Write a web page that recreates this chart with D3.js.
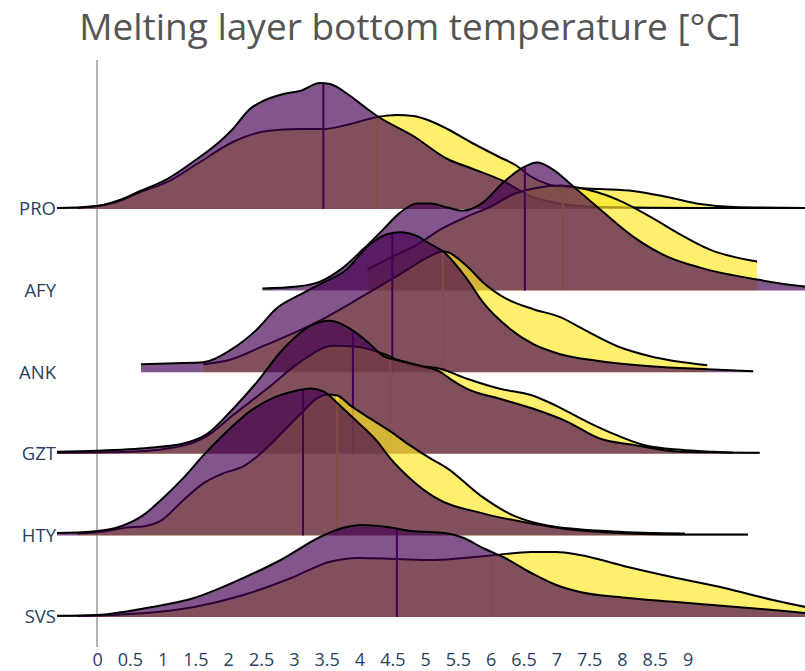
<!DOCTYPE html>
<html>
<head>
<meta charset="utf-8">
<script src="https://cdn.jsdelivr.net/npm/d3@7"></script>
<style>
    body { margin: 0; background: #fff; }
    text { font-family: "Open Sans", sans-serif; }
</style>
</head>
<body>
<div id="chart-area"></div>
<script>
// categories, top row first
const categories = ["PRO", "AFY", "ANK", "GZT", "HTY", "SVS"];
const xTicks = [0, 0.5, 1, 1.5, 2, 2.5, 3, 3.5, 4, 4.5, 5, 5.5, 6, 6.5, 7, 7.5, 8, 8.5, 9];

// density curves, [temperature, density]
const purpleDensity = [
    [[-0.8,0.01],[-0.59,0.01],[0,0.03],[0.3,0.08],[0.66,0.18],[1.07,0.30],[1.46,0.47],[1.88,0.68],[2.07,0.80],[2.33,1.00],[2.53,1.08],[2.84,1.15],[3.09,1.18],[3.4,1.26],[3.55,1.25],[3.86,1.13],[4.12,1.00],[4.27,0.93],[4.82,0.73],[5.34,0.50],[5.73,0.40],[6.19,0.28],[6.6,0.13],[7.1,0.05],[7.67,0.02],[9.2,0.01],[11,0.01]],
    [[2.52,0.02],[3.05,0.04],[3.4,0.09],[3.75,0.23],[4.05,0.41],[4.36,0.61],[4.62,0.78],[4.88,0.87],[5.08,0.87],[5.34,0.83],[5.58,0.80],[5.88,0.88],[6.19,1.08],[6.49,1.23],[6.71,1.28],[6.95,1.21],[7.26,1.04],[7.67,0.81],[8.17,0.54],[8.69,0.34],[9.19,0.23],[10.06,0.11],[10.8,0.04],[11.2,0.02]],
    [[0.67,0.08],[1.2,0.09],[1.62,0.10],[2.03,0.22],[2.44,0.43],[2.74,0.64],[3.05,0.76],[3.4,0.88],[3.81,1.03],[4.16,1.28],[4.42,1.38],[4.62,1.40],[4.88,1.36],[5.08,1.28],[5.27,1.21],[5.64,0.93],[5.88,0.70],[6.3,0.43],[6.65,0.28],[7.06,0.18],[7.67,0.11],[8.43,0.06],[9.3,0.03],[10.0,0.01]],
    [[-0.8,0.02],[0,0.03],[0.8,0.06],[1.3,0.10],[1.68,0.20],[2.03,0.42],[2.44,0.72],[2.84,1.05],[3.25,1.28],[3.55,1.33],[3.86,1.25],[4.12,1.12],[4.36,0.98],[4.62,0.93],[4.92,0.88],[5.23,0.82],[5.38,0.75],[5.64,0.65],[6.14,0.55],[6.65,0.45],[7.17,0.32],[7.67,0.15],[8.17,0.09],[8.9,0.02],[10.1,0.01]],
    [[-0.8,0.02],[-0.06,0.04],[0.4,0.10],[0.7,0.20],[1.0,0.37],[1.31,0.57],[1.62,0.80],[1.98,1.04],[2.33,1.24],[2.74,1.39],[3.05,1.45],[3.25,1.47],[3.45,1.44],[3.7,1.30],[3.96,1.14],[4.27,0.94],[4.47,0.77],[4.77,0.57],[5.15,0.38],[5.88,0.22],[6.62,0.12],[7.36,0.05],[8.83,0.01],[9.92,0.01]],
    [[-0.8,0.01],[0,0.02],[0.75,0.09],[1.48,0.19],[2.23,0.39],[2.8,0.57],[3.4,0.80],[3.69,0.88],[4.05,0.92],[4.42,0.90],[4.79,0.86],[5.3,0.84],[5.59,0.79],[5.88,0.69],[6.19,0.60],[6.62,0.44],[7.0,0.32],[7.36,0.25],[8.09,0.19],[8.83,0.15],[9.56,0.11],[10.3,0.07],[10.8,0.04],[11.2,0.02]]
];

const yellowDensity = [
    [[-0.3,0.01],[0,0.03],[0.3,0.07],[0.66,0.17],[1.07,0.27],[1.57,0.47],[2.07,0.67],[2.59,0.78],[3.09,0.80],[3.45,0.80],[3.86,0.85],[4.27,0.92],[4.57,0.94],[4.82,0.93],[5.08,0.88],[5.34,0.80],[5.69,0.67],[6.1,0.53],[6.4,0.43],[6.6,0.33],[6.86,0.25],[7.1,0.22],[7.67,0.20],[8.17,0.18],[8.69,0.12],[9.19,0.05],[9.7,0.02],[11,0.01]],
    [[4.12,0.21],[4.47,0.33],[4.88,0.46],[5.23,0.61],[5.64,0.74],[6.0,0.84],[6.3,0.95],[6.65,1.02],[7.06,1.05],[7.32,1.03],[7.93,0.91],[8.43,0.74],[8.84,0.58],[9.34,0.41],[10.06,0.29]],
    [[1.62,0.08],[2.0,0.12],[2.53,0.26],[3.35,0.50],[4.05,0.76],[4.57,0.96],[5.08,1.16],[5.27,1.21],[5.64,1.06],[5.88,0.90],[6.25,0.73],[6.65,0.63],[7.06,0.55],[7.41,0.43],[7.93,0.26],[8.43,0.16],[9.3,0.07]],
    [[-0.8,0.01],[0.5,0.02],[1.3,0.08],[1.68,0.18],[2.06,0.38],[2.59,0.65],[3.1,0.92],[3.6,1.08],[3.96,1.07],[4.36,1.00],[4.62,0.93],[4.92,0.88],[5.23,0.85],[5.64,0.75],[6.14,0.65],[6.6,0.59],[7.0,0.48],[7.47,0.32],[7.8,0.22],[8.38,0.08],[8.9,0.04],[9.4,0.02],[9.7,0.01]],
    [[-0.3,0.02],[0.1,0.04],[0.46,0.08],[0.7,0.09],[0.98,0.15],[1.31,0.35],[1.62,0.52],[1.92,0.62],[2.23,0.69],[2.53,0.84],[2.84,1.04],[3.14,1.24],[3.35,1.37],[3.51,1.41],[3.66,1.40],[3.86,1.30],[4.16,1.17],[4.47,1.04],[4.77,0.90],[5.08,0.77],[5.34,0.67],[5.84,0.40],[6.34,0.20],[6.86,0.10],[7.87,0.04],[8.96,0.02]],
    [[-0.3,0.01],[0.24,0.02],[1.48,0.10],[2.23,0.22],[2.96,0.39],[3.54,0.55],[3.98,0.59],[4.57,0.58],[5.15,0.57],[5.75,0.60],[6.07,0.62],[6.62,0.65],[7.0,0.65],[7.36,0.62],[8.09,0.50],[8.83,0.39],[9.56,0.29],[10.3,0.17],[10.8,0.10],[11.2,0.05]]
];

const purpleMeans = [3.45, 6.52, 4.5, 3.9, 3.14, 4.57];
const yellowMeans = [4.27, 7.1, 5.27, 4.47, 3.66, 6.0];

const purple = "#440154";
const yellow = "#fde725";

let margin = {top: 60, right: 0, bottom: 24, left: 57};
let width = 805 - margin.left - margin.right,
    height = 671 - margin.top - margin.bottom;

let svg = d3.select("#chart-area").append("svg")
    .attr("width", 805)
    .attr("height", 671);

svg.append("text")
    .attr("x", 410)
    .attr("y", 40)
    .attr("text-anchor", "middle")
    .text("Melting layer bottom temperature [°C]")
    .attr("style", "font-size: 37px; fill: #555;");

let g = svg.append("g")
    .attr("transform", "translate(" + margin.left + "," + margin.top + ")");

g.append("defs").append("clipPath")
    .attr("id", "clip")
    .append("rect")
    .attr("width", width)
    .attr("height", height);

let x = d3.scaleLinear()
    .domain([-0.61, 10.79])
    .range([0, width]);

let y = d3.scalePoint()
    .domain(categories)
    .range([149, 557]);

// density -> pixel height
let h = d3.scaleLinear()
    .domain([0, 1])
    .range([0, 100]);

// zero line
g.append("line")
    .attr("x1", x(0)).attr("x2", x(0))
    .attr("y1", 0).attr("y2", height)
    .attr("stroke", "#999")
    .attr("stroke-width", 1.5);

// x axis labels
let xAxis = g.append("g")
    .attr("transform", "translate(0," + height + ")")
    .call(d3.axisBottom(x).tickValues(xTicks).tickSize(0).tickPadding(6).tickFormat(d3.format("")));
xAxis.select(".domain").remove();
xAxis.selectAll("text")
    .attr("style", "font-size: 18px; fill: #2a3f5f; font-family: 'Open Sans'");

// y axis labels
let yAxis = g.append("g")
    .call(d3.axisLeft(y).tickSize(0).tickPadding(1));
yAxis.select(".domain").remove();
yAxis.selectAll("text")
    .attr("style", "font-size: 18.5px; fill: #2a3f5f; font-family: 'Open Sans'");

let plot = g.append("g").attr("clip-path", "url(#clip)");

function densityAt(pts, v) {
    for (let i = 1; i < pts.length; i++) {
        if (pts[i][0] >= v) {
            let t = (v - pts[i - 1][0]) / (pts[i][0] - pts[i - 1][0]);
            return pts[i - 1][1] + t * (pts[i][1] - pts[i - 1][1]);
        }
    }
    return 0;
}

function drawViolin(pts, base, fill, mean, meanColor) {
    let area = d3.area()
        .curve(d3.curveMonotoneX)
        .x(d => x(d[0]))
        .y0(base)
        .y1(d => base - h(d[1]));
    let line = d3.line()
        .curve(d3.curveMonotoneX)
        .x(d => x(d[0]))
        .y(d => base - h(d[1]));

    plot.append("path")
        .attr("d", area(pts))
        .attr("fill", fill)
        .attr("fill-opacity", 0.67);

    plot.append("line")
        .attr("x1", x(mean)).attr("x2", x(mean))
        .attr("y1", base)
        .attr("y2", base - h(densityAt(pts, mean)))
        .attr("stroke", meanColor)
        .attr("stroke-width", 2);

    plot.append("path")
        .attr("d", line(pts))
        .attr("fill", "none")
        .attr("stroke", "#000")
        .attr("stroke-width", 2);
}

// each row: yellow first, purple on top; lower rows drawn later
categories.forEach((c, i) => {
    let base = y(c);
    drawViolin(yellowDensity[i], base, yellow, yellowMeans[i], yellow);
    drawViolin(purpleDensity[i], base, purple, purpleMeans[i], purple);
});
</script>
</body>
</html>
